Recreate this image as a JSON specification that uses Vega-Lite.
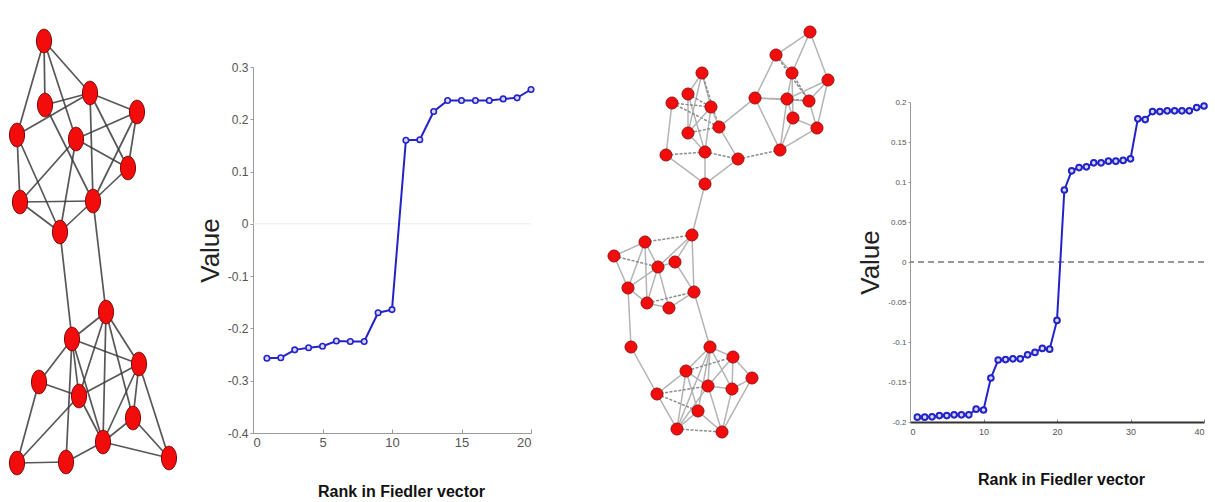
{
  "$schema": "https://vega.github.io/schema/vega-lite/v6.json",
  "padding": 0,
  "background": "white",
  "autosize": {"type": "pad"},
  "spacing": 0,
  "bounds": "flush",
  "config": {"view": {"stroke": null}, "font": "Liberation Sans"},
  "datasets": {
    "nodes1": [
      {"id": "A", "x": 44, "y": 41}, {"id": "B", "x": 90, "y": 93}, {"id": "C", "x": 45, "y": 105},
      {"id": "D", "x": 137, "y": 112}, {"id": "E", "x": 17, "y": 135}, {"id": "F", "x": 76, "y": 139},
      {"id": "G", "x": 128, "y": 168}, {"id": "H", "x": 20, "y": 202}, {"id": "I", "x": 93, "y": 201},
      {"id": "J", "x": 60, "y": 232}, {"id": "K", "x": 106, "y": 312}, {"id": "L", "x": 72, "y": 339},
      {"id": "M", "x": 139, "y": 364}, {"id": "N", "x": 39, "y": 382}, {"id": "O", "x": 79, "y": 396},
      {"id": "P", "x": 133, "y": 418}, {"id": "Q", "x": 103, "y": 442}, {"id": "R", "x": 17, "y": 463},
      {"id": "S", "x": 66, "y": 462}, {"id": "T", "x": 169, "y": 458}
    ],
    "edges1": [
      {"s": "A", "t": "E"}, {"s": "A", "t": "C"}, {"s": "A", "t": "F"}, {"s": "A", "t": "B"},
      {"s": "C", "t": "B"}, {"s": "E", "t": "B"}, {"s": "C", "t": "I"}, {"s": "B", "t": "D"},
      {"s": "B", "t": "I"}, {"s": "B", "t": "G"}, {"s": "D", "t": "F"}, {"s": "D", "t": "G"},
      {"s": "D", "t": "I"}, {"s": "F", "t": "G"}, {"s": "F", "t": "J"}, {"s": "F", "t": "H"},
      {"s": "E", "t": "H"}, {"s": "E", "t": "J"}, {"s": "H", "t": "I"}, {"s": "H", "t": "J"},
      {"s": "I", "t": "J"}, {"s": "G", "t": "I"}, {"s": "J", "t": "L"}, {"s": "I", "t": "K"},
      {"s": "K", "t": "L"}, {"s": "K", "t": "M"}, {"s": "K", "t": "O"}, {"s": "K", "t": "P"},
      {"s": "K", "t": "Q"}, {"s": "L", "t": "M"}, {"s": "L", "t": "N"}, {"s": "L", "t": "O"},
      {"s": "L", "t": "Q"}, {"s": "L", "t": "S"}, {"s": "N", "t": "O"}, {"s": "N", "t": "R"},
      {"s": "O", "t": "M"}, {"s": "O", "t": "Q"}, {"s": "M", "t": "P"}, {"s": "M", "t": "T"},
      {"s": "M", "t": "Q"}, {"s": "P", "t": "Q"}, {"s": "P", "t": "T"}, {"s": "Q", "t": "S"},
      {"s": "Q", "t": "T"}, {"s": "R", "t": "S"}, {"s": "R", "t": "O"}
    ],
    "nodes2": [
      {"id": "a1", "x": 810, "y": 32}, {"id": "a2", "x": 776, "y": 55}, {"id": "a3", "x": 792, "y": 73},
      {"id": "a4", "x": 828, "y": 80}, {"id": "a5", "x": 755, "y": 98}, {"id": "a6", "x": 787, "y": 99},
      {"id": "a7", "x": 809, "y": 101}, {"id": "a8", "x": 793, "y": 118}, {"id": "a9", "x": 817, "y": 128},
      {"id": "a10", "x": 780, "y": 150},
      {"id": "b1", "x": 702, "y": 73}, {"id": "b2", "x": 688, "y": 94}, {"id": "b3", "x": 672, "y": 103},
      {"id": "b4", "x": 711, "y": 107}, {"id": "b5", "x": 719, "y": 127}, {"id": "b6", "x": 688, "y": 133},
      {"id": "b7", "x": 666, "y": 155}, {"id": "b8", "x": 705, "y": 152}, {"id": "b9", "x": 738, "y": 159},
      {"id": "b10", "x": 705, "y": 184},
      {"id": "c1", "x": 692, "y": 235}, {"id": "c2", "x": 645, "y": 242}, {"id": "c3", "x": 614, "y": 256},
      {"id": "c4", "x": 675, "y": 262}, {"id": "c5", "x": 658, "y": 267}, {"id": "c6", "x": 628, "y": 288},
      {"id": "c7", "x": 694, "y": 292}, {"id": "c8", "x": 647, "y": 303}, {"id": "c9", "x": 669, "y": 308},
      {"id": "c10", "x": 631, "y": 347},
      {"id": "d1", "x": 710, "y": 347}, {"id": "d2", "x": 733, "y": 357}, {"id": "d3", "x": 686, "y": 371},
      {"id": "d4", "x": 752, "y": 378}, {"id": "d5", "x": 708, "y": 386}, {"id": "d6", "x": 732, "y": 389},
      {"id": "d7", "x": 657, "y": 394}, {"id": "d8", "x": 698, "y": 411}, {"id": "d9", "x": 677, "y": 429},
      {"id": "d10", "x": 722, "y": 432}
    ],
    "edges2": [
      {"s": "a1", "t": "a2", "k": "strong"}, {"s": "a1", "t": "a3", "k": "strong"}, {"s": "a1", "t": "a4", "k": "strong"},
      {"s": "a2", "t": "a3", "k": "strong"}, {"s": "a2", "t": "a5", "k": "strong"}, {"s": "a2", "t": "a7", "k": "weak"},
      {"s": "a3", "t": "a6", "k": "strong"}, {"s": "a3", "t": "a8", "k": "strong"}, {"s": "a3", "t": "a7", "k": "weak"},
      {"s": "a4", "t": "a7", "k": "strong"}, {"s": "a4", "t": "a9", "k": "strong"}, {"s": "a4", "t": "a6", "k": "strong"},
      {"s": "a5", "t": "a6", "k": "strong"}, {"s": "a5", "t": "a7", "k": "strong"}, {"s": "a5", "t": "a10", "k": "strong"},
      {"s": "a6", "t": "a7", "k": "weak"}, {"s": "a6", "t": "a8", "k": "strong"}, {"s": "a6", "t": "a10", "k": "strong"},
      {"s": "a7", "t": "a9", "k": "strong"}, {"s": "a8", "t": "a10", "k": "strong"}, {"s": "a8", "t": "a9", "k": "strong"},
      {"s": "a9", "t": "a10", "k": "strong"},
      {"s": "b1", "t": "b2", "k": "strong"}, {"s": "b1", "t": "b4", "k": "strong"}, {"s": "b1", "t": "b6", "k": "strong"},
      {"s": "b1", "t": "b5", "k": "weak"}, {"s": "b2", "t": "b4", "k": "weak"}, {"s": "b2", "t": "b6", "k": "strong"},
      {"s": "b2", "t": "b8", "k": "strong"}, {"s": "b3", "t": "b4", "k": "weak"}, {"s": "b3", "t": "b7", "k": "strong"},
      {"s": "b3", "t": "b5", "k": "weak"}, {"s": "b4", "t": "b6", "k": "strong"}, {"s": "b4", "t": "b8", "k": "strong"},
      {"s": "b4", "t": "b5", "k": "strong"}, {"s": "b5", "t": "b6", "k": "weak"}, {"s": "b5", "t": "b9", "k": "strong"},
      {"s": "b6", "t": "b8", "k": "strong"}, {"s": "b7", "t": "b8", "k": "weak"}, {"s": "b7", "t": "b10", "k": "strong"},
      {"s": "b8", "t": "b9", "k": "weak"}, {"s": "b8", "t": "b10", "k": "strong"}, {"s": "b9", "t": "b10", "k": "strong"},
      {"s": "b5", "t": "a5", "k": "strong"}, {"s": "b9", "t": "a10", "k": "weak"}, {"s": "b10", "t": "c1", "k": "strong"},
      {"s": "c7", "t": "d1", "k": "strong"}, {"s": "c10", "t": "d7", "k": "strong"},
      {"s": "c1", "t": "c2", "k": "weak"}, {"s": "c1", "t": "c4", "k": "strong"}, {"s": "c1", "t": "c5", "k": "strong"},
      {"s": "c1", "t": "c7", "k": "strong"}, {"s": "c2", "t": "c3", "k": "strong"}, {"s": "c2", "t": "c5", "k": "strong"},
      {"s": "c2", "t": "c6", "k": "strong"}, {"s": "c2", "t": "c8", "k": "strong"}, {"s": "c3", "t": "c5", "k": "weak"},
      {"s": "c3", "t": "c6", "k": "strong"}, {"s": "c4", "t": "c5", "k": "strong"}, {"s": "c4", "t": "c7", "k": "strong"},
      {"s": "c5", "t": "c6", "k": "strong"}, {"s": "c5", "t": "c8", "k": "strong"}, {"s": "c5", "t": "c9", "k": "strong"},
      {"s": "c6", "t": "c8", "k": "strong"}, {"s": "c6", "t": "c10", "k": "strong"}, {"s": "c7", "t": "c8", "k": "weak"},
      {"s": "c7", "t": "c9", "k": "strong"}, {"s": "c8", "t": "c9", "k": "strong"},
      {"s": "d1", "t": "d2", "k": "strong"}, {"s": "d1", "t": "d3", "k": "strong"}, {"s": "d1", "t": "d5", "k": "strong"},
      {"s": "d1", "t": "d6", "k": "strong"}, {"s": "d1", "t": "d8", "k": "strong"}, {"s": "d1", "t": "d9", "k": "strong"},
      {"s": "d2", "t": "d3", "k": "weak"}, {"s": "d2", "t": "d4", "k": "strong"}, {"s": "d2", "t": "d5", "k": "strong"},
      {"s": "d2", "t": "d6", "k": "strong"}, {"s": "d3", "t": "d5", "k": "strong"}, {"s": "d3", "t": "d7", "k": "strong"},
      {"s": "d3", "t": "d8", "k": "strong"}, {"s": "d3", "t": "d9", "k": "strong"}, {"s": "d4", "t": "d6", "k": "strong"},
      {"s": "d4", "t": "d10", "k": "strong"}, {"s": "d5", "t": "d6", "k": "strong"}, {"s": "d5", "t": "d7", "k": "weak"},
      {"s": "d5", "t": "d9", "k": "strong"}, {"s": "d5", "t": "d10", "k": "strong"}, {"s": "d6", "t": "d10", "k": "strong"},
      {"s": "d7", "t": "d8", "k": "weak"}, {"s": "d7", "t": "d9", "k": "strong"}, {"s": "d8", "t": "d9", "k": "strong"},
      {"s": "d8", "t": "d10", "k": "strong"}, {"s": "d9", "t": "d10", "k": "weak"}
    ],
    "fiedler1": [
      {"rank": 1, "value": -0.257}, {"rank": 2, "value": -0.256}, {"rank": 3, "value": -0.241},
      {"rank": 4, "value": -0.237}, {"rank": 5, "value": -0.234}, {"rank": 6, "value": -0.224},
      {"rank": 7, "value": -0.225}, {"rank": 8, "value": -0.225}, {"rank": 9, "value": -0.170},
      {"rank": 10, "value": -0.164}, {"rank": 11, "value": 0.160}, {"rank": 12, "value": 0.161},
      {"rank": 13, "value": 0.215}, {"rank": 14, "value": 0.236}, {"rank": 15, "value": 0.236},
      {"rank": 16, "value": 0.236}, {"rank": 17, "value": 0.236}, {"rank": 18, "value": 0.239},
      {"rank": 19, "value": 0.241}, {"rank": 20, "value": 0.257}
    ],
    "fiedler2": [
      {"rank": 1, "value": -0.194}, {"rank": 2, "value": -0.194}, {"rank": 3, "value": -0.1935},
      {"rank": 4, "value": -0.192}, {"rank": 5, "value": -0.192}, {"rank": 6, "value": -0.191},
      {"rank": 7, "value": -0.191}, {"rank": 8, "value": -0.191}, {"rank": 9, "value": -0.184},
      {"rank": 10, "value": -0.185}, {"rank": 11, "value": -0.145}, {"rank": 12, "value": -0.1225},
      {"rank": 13, "value": -0.122}, {"rank": 14, "value": -0.121}, {"rank": 15, "value": -0.121},
      {"rank": 16, "value": -0.116}, {"rank": 17, "value": -0.113}, {"rank": 18, "value": -0.108},
      {"rank": 19, "value": -0.109}, {"rank": 20, "value": -0.073}, {"rank": 21, "value": 0.090},
      {"rank": 22, "value": 0.114}, {"rank": 23, "value": 0.118}, {"rank": 24, "value": 0.119},
      {"rank": 25, "value": 0.124}, {"rank": 26, "value": 0.124}, {"rank": 27, "value": 0.126},
      {"rank": 28, "value": 0.126}, {"rank": 29, "value": 0.127}, {"rank": 30, "value": 0.129},
      {"rank": 31, "value": 0.179}, {"rank": 32, "value": 0.178}, {"rank": 33, "value": 0.188},
      {"rank": 34, "value": 0.188}, {"rank": 35, "value": 0.189}, {"rank": 36, "value": 0.189},
      {"rank": 37, "value": 0.189}, {"rank": 38, "value": 0.189}, {"rank": 39, "value": 0.193},
      {"rank": 40, "value": 0.195}
    ]
  },
  "hconcat": [
    {
      "width": 253,
      "height": 502,
      "layer": [
        {
          "data": {"name": "edges1"},
          "transform": [
            {"lookup": "s", "from": {"data": {"name": "nodes1"}, "key": "id", "fields": ["x", "y"]}, "as": ["sx", "sy"]},
            {"lookup": "t", "from": {"data": {"name": "nodes1"}, "key": "id", "fields": ["x", "y"]}, "as": ["tx", "ty"]}
          ],
          "mark": {"type": "rule", "color": "#3a3a3a", "strokeWidth": 1.7, "opacity": 0.85},
          "encoding": {
            "x": {"field": "sx", "type": "quantitative", "scale": {"domain": [0, 253], "nice": false, "zero": false}, "axis": null},
            "y": {"field": "sy", "type": "quantitative", "scale": {"domain": [0, 502], "nice": false, "zero": false, "reverse": true}, "axis": null},
            "x2": {"field": "tx"},
            "y2": {"field": "ty"}
          }
        },
        {
          "data": {"name": "nodes1"},
          "mark": {"type": "point", "shape": "M0,-1A0.64,1,0,1,1,0,1A0.64,1,0,1,1,0,-1Z", "filled": true, "fill": "#f20c0c", "stroke": "#7a0808", "strokeWidth": 1, "size": 560, "opacity": 1},
          "encoding": {
            "x": {"field": "x", "type": "quantitative"},
            "y": {"field": "y", "type": "quantitative"}
          }
        }
      ]
    },
    {
      "width": 278,
      "height": 433,
      "layer": [
        {
          "data": {"values": [{}]},
          "mark": {"type": "rule", "color": "#ececec", "strokeWidth": 1},
          "encoding": {"y": {"datum": 0, "type": "quantitative"}}
        },
        {
          "data": {"name": "fiedler1"},
          "mark": {"type": "line", "color": "#2323c8", "strokeWidth": 2},
          "encoding": {
            "x": {
              "field": "rank", "type": "quantitative",
              "scale": {"domain": [0, 20], "nice": false, "zero": false},
              "axis": {"values": [0, 5, 10, 15, 20], "grid": false, "title": "Rank in Fiedler vector", "titleFontWeight": "bold", "titleFontSize": 16, "titleColor": "#111", "titleBaseline": "middle", "titleAlign": "center", "titleX": 148, "titleY": 58, "labelFontSize": 13, "labelColor": "#555", "labelPadding": 7, "domainColor": "#9a9a9a", "tickColor": "#9a9a9a", "tickSize": -4}
            },
            "y": {
              "field": "value", "type": "quantitative",
              "scale": {"domain": [-0.4, 0.3], "range": [433, 67], "nice": false, "zero": false},
              "axis": {"values": [-0.4, -0.3, -0.2, -0.1, 0, 0.1, 0.2, 0.3], "labelExpr": "'' + datum.value", "grid": false, "title": "Value", "titleFontSize": 26, "titleFontWeight": "normal", "titleColor": "#222", "titlePadding": 4, "labelFontSize": 12, "labelColor": "#555", "labelPadding": 2, "domainColor": "#9a9a9a", "tickColor": "#9a9a9a", "tickSize": 3}
            }
          }
        },
        {
          "data": {"name": "fiedler1"},
          "mark": {"type": "point", "filled": true, "fill": "#d8d8ff", "stroke": "#2323c8", "strokeWidth": 1.6, "size": 30, "opacity": 1},
          "encoding": {
            "x": {"field": "rank", "type": "quantitative"},
            "y": {"field": "value", "type": "quantitative"}
          }
        }
      ]
    },
    {
      "width": 379,
      "height": 502,
      "layer": [
        {
          "data": {"name": "edges2"},
          "transform": [
            {"lookup": "s", "from": {"data": {"name": "nodes2"}, "key": "id", "fields": ["x", "y"]}, "as": ["sx", "sy"]},
            {"lookup": "t", "from": {"data": {"name": "nodes2"}, "key": "id", "fields": ["x", "y"]}, "as": ["tx", "ty"]}
          ],
          "mark": {"type": "rule", "strokeWidth": 1.5},
          "encoding": {
            "x": {"field": "sx", "type": "quantitative", "scale": {"domain": [531, 910], "nice": false, "zero": false}, "axis": null},
            "y": {"field": "sy", "type": "quantitative", "scale": {"domain": [0, 502], "nice": false, "zero": false, "reverse": true}, "axis": null},
            "x2": {"field": "tx"},
            "y2": {"field": "ty"},
            "color": {"field": "k", "type": "nominal", "scale": {"domain": ["strong", "weak"], "range": ["#b4b4b4", "#8c8c8c"]}, "legend": null},
            "strokeDash": {"field": "k", "type": "nominal", "scale": {"domain": ["strong", "weak"], "range": [[1, 0], [3, 1.5]]}, "legend": null}
          }
        },
        {
          "data": {"name": "nodes2"},
          "mark": {"type": "point", "shape": "circle", "filled": true, "fill": "#f20c0c", "stroke": "#9a1010", "strokeWidth": 1, "size": 145, "opacity": 1},
          "encoding": {
            "x": {"field": "x", "type": "quantitative"},
            "y": {"field": "y", "type": "quantitative"}
          }
        }
      ]
    },
    {
      "width": 294,
      "height": 422,
      "layer": [
        {
          "data": {"values": [{}]},
          "mark": {"type": "rule", "color": "#777777", "strokeWidth": 1.3, "strokeDash": [6, 4]},
          "encoding": {"y": {"datum": 0, "type": "quantitative"}}
        },
        {
          "data": {"name": "fiedler2"},
          "mark": {"type": "line", "color": "#2323c8", "strokeWidth": 2},
          "encoding": {
            "x": {
              "field": "rank", "type": "quantitative",
              "scale": {"domain": [0, 40], "nice": false, "zero": false},
              "axis": {"values": [0, 5, 10, 15, 20, 25, 30, 35, 40], "grid": false, "title": "Rank in Fiedler vector", "titleFontWeight": "bold", "titleFontSize": 16, "titleColor": "#111", "titleBaseline": "middle", "titleAlign": "center", "titleX": 151, "titleY": 57, "labelFontSize": 9, "labelColor": "#555", "labelPadding": 8, "domainColor": "#333", "domainWidth": 2, "tickColor": "#888", "tickSize": -3}
            },
            "y": {
              "field": "value", "type": "quantitative",
              "scale": {"domain": [-0.2, 0.2], "range": [422, 102], "nice": false, "zero": false},
              "axis": {"values": [-0.2, -0.15, -0.1, -0.05, 0, 0.05, 0.1, 0.15, 0.2], "labelExpr": "'' + datum.value", "grid": false, "title": "Value", "titleFontSize": 26, "titleFontWeight": "normal", "titleColor": "#222", "titlePadding": 4, "labelFontSize": 8, "labelColor": "#555", "labelPadding": 2, "domainColor": "#9a9a9a", "tickColor": "#9a9a9a", "tickSize": 2}
            }
          }
        },
        {
          "data": {"name": "fiedler2"},
          "mark": {"type": "point", "filled": true, "fill": "#d8d8ff", "stroke": "#2323c8", "strokeWidth": 2, "size": 32, "opacity": 1},
          "encoding": {
            "x": {"field": "rank", "type": "quantitative"},
            "y": {"field": "value", "type": "quantitative"}
          }
        }
      ]
    }
  ]
}
